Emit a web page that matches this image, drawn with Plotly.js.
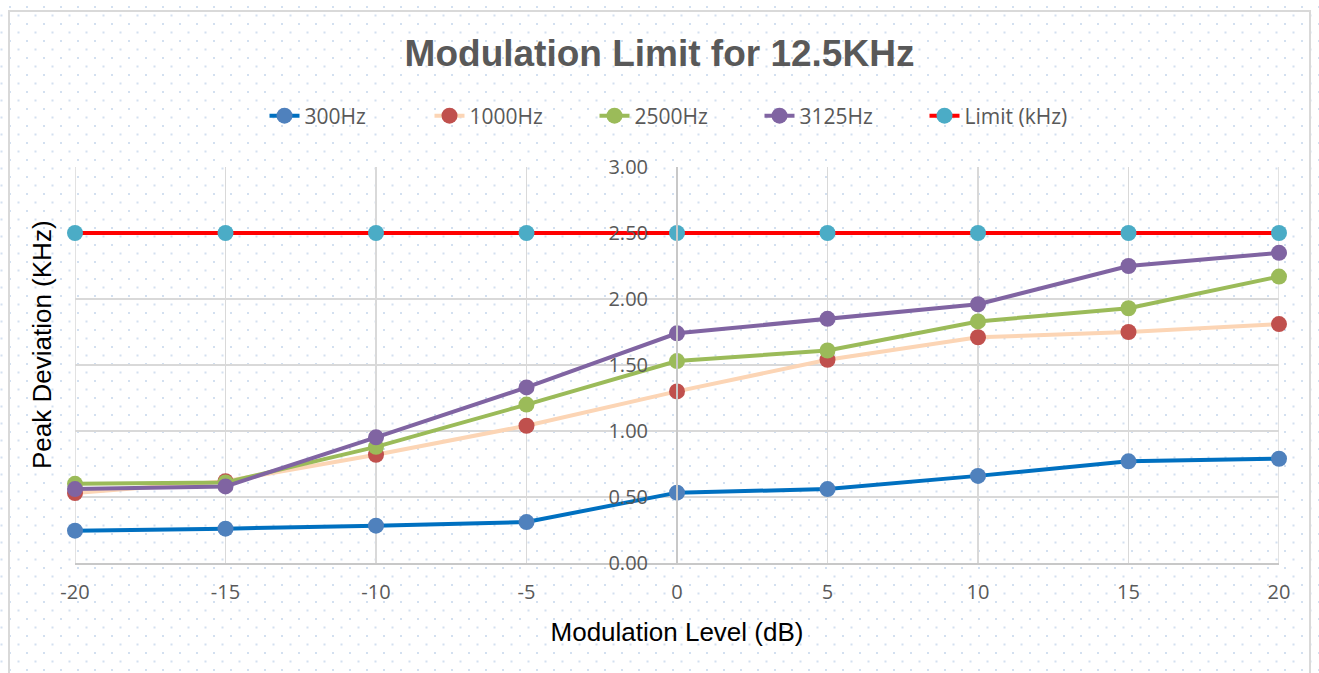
<!DOCTYPE html>
<html>
<head>
<meta charset="utf-8">
<script src="https://cdn.plot.ly/plotly-3.0.1.min.js"></script>
<style>
html,body{margin:0;padding:0;width:1319px;height:673px;overflow:hidden;background:#fff;}
#bg{position:absolute;left:0;top:0;width:1319px;height:673px;
background-image:url("data:image/svg+xml;utf8,<svg xmlns='http://www.w3.org/2000/svg' width='17' height='17'><rect x='0' y='0' width='2' height='2' fill='%23d3e0f0'/><rect x='8.5' y='8.5' width='2' height='2' fill='%23d3e0f0'/></svg>");
background-position:9px 6px;}
#frame{position:absolute;left:8px;top:10px;width:1303px;height:700px;border:2px solid #d9d9d9;box-sizing:border-box;}
#chart{position:absolute;left:0;top:0;width:1319px;height:673px;}
</style>
</head>
<body>
<div id="bg"></div>
<div id="frame"></div>
<div id="chart"></div>
<script>
const levels = [-20, -15, -10, -5, 0, 5, 10, 15, 20];
const hz300  = [0.245, 0.26, 0.283, 0.31, 0.533, 0.56, 0.66, 0.77, 0.79];
const hz1000 = [0.53, 0.62, 0.82, 1.04, 1.30, 1.54, 1.71, 1.75, 1.81];
const hz2500 = [0.60, 0.61, 0.88, 1.20, 1.53, 1.61, 1.83, 1.93, 2.17];
const hz3125 = [0.56, 0.58, 0.952, 1.33, 1.74, 1.85, 1.96, 2.25, 2.35];
const limit  = [2.5, 2.5, 2.5, 2.5, 2.5, 2.5, 2.5, 2.5, 2.5];
const yTicks = [0, 0.5, 1, 1.5, 2, 2.5, 3];
const yTickText = ["0.00", "0.50", "1.00", "1.50", "2.00", "2.50", "3.00"];
const xTicks = levels;

function series(name, y, lineColor, markerColor) {
  return {
    x: levels, y: y, name: name, type: 'scatter', mode: 'lines+markers',
    line: {color: lineColor, width: 4},
    marker: {color: markerColor, size: 16},
    cliponaxis: false
  };
}
const data = [
  series('300Hz', hz300, '#0070C0', '#4F81BD'),
  series('1000Hz', hz1000, '#FCD5B5', '#C0504D'),
  series('2500Hz', hz2500, '#9BBB59', '#9BBB59'),
  series('3125Hz', hz3125, '#8064A2', '#8064A2'),
  series('Limit (kHz)', limit, '#FF0000', '#4BACC6')
];
const layout = {
  width: 1319, height: 673,
  margin: {l: 75, r: 40, t: 167, b: 110},
  paper_bgcolor: 'rgba(0,0,0,0)', plot_bgcolor: 'rgba(0,0,0,0)',
  font: {family: '"Open Sans", sans-serif', size: 20, color: '#595959'},
  title: {text: 'Modulation Limit for 12.5KHz', x: 0.5, xanchor: 'center', y: 1 - 53/673, yanchor: 'middle',
          font: {family: '"Liberation Sans", Arial, sans-serif', size: 37, color: '#595959', weight: 'bold'}},
  showlegend: true,
  legend: {orientation: 'h', x: 0.5, xanchor: 'center', y: 1 + 51/396, yanchor: 'middle',
           font: {family: '"Open Sans", sans-serif', size: 21, color: '#595959'}, bgcolor: 'rgba(0,0,0,0)',
           itemwidth: 30, entrywidth: 120, entrywidthmode: 'pixels'},
  xaxis: {range: [-20, 20], tickvals: xTicks, ticktext: xTicks.map(String), showgrid: true, gridcolor: '#d9d9d9', gridwidth: 1.5,
          zeroline: false, showline: true, linecolor: '#c8c8c8', linewidth: 2, mirror: false, ticks: '', ticklabelstandoff: 10,
          tickfont: {family: '"Open Sans", sans-serif', size: 20, color: '#595959'},
          title: {text: 'Modulation Level (dB)', standoff: 19, font: {family: '"Liberation Sans", Arial, sans-serif', size: 26, color: '#000000'}}},
  yaxis: {range: [0, 3], tickvals: yTicks, ticktext: yTickText, showgrid: true, gridcolor: '#d9d9d9', gridwidth: 1.5,
          zeroline: false, showline: true, linecolor: '#c8c8c8', linewidth: 2, anchor: 'free', position: 0.5, ticks: '', ticklabelstandoff: 24,
          tickfont: {family: '"Open Sans", sans-serif', size: 20, color: '#595959'}},
  shapes: [
    {type: 'line', xref: 'x', yref: 'paper', x0: -20, x1: -20, y0: 0, y1: 1, line: {color: '#d9d9d9', width: 1.5}, layer: 'below'},
    {type: 'line', xref: 'x', yref: 'paper', x0: 20, x1: 20, y0: 0, y1: 1, line: {color: '#d9d9d9', width: 1.5}, layer: 'below'}
  ],
  annotations: [
    {text: 'Peak Deviation (KHz)', xref: 'paper', yref: 'paper', x: (42 - 75)/1204, y: (563 - 345)/396, xanchor: 'center', yanchor: 'middle',
     textangle: -90, showarrow: false, font: {family: '"Liberation Sans", Arial, sans-serif', size: 26, color: '#000000'}}
  ]
};
Plotly.newPlot('chart', data, layout, {displayModeBar: false, staticPlot: true});
</script>
</body>
</html>
